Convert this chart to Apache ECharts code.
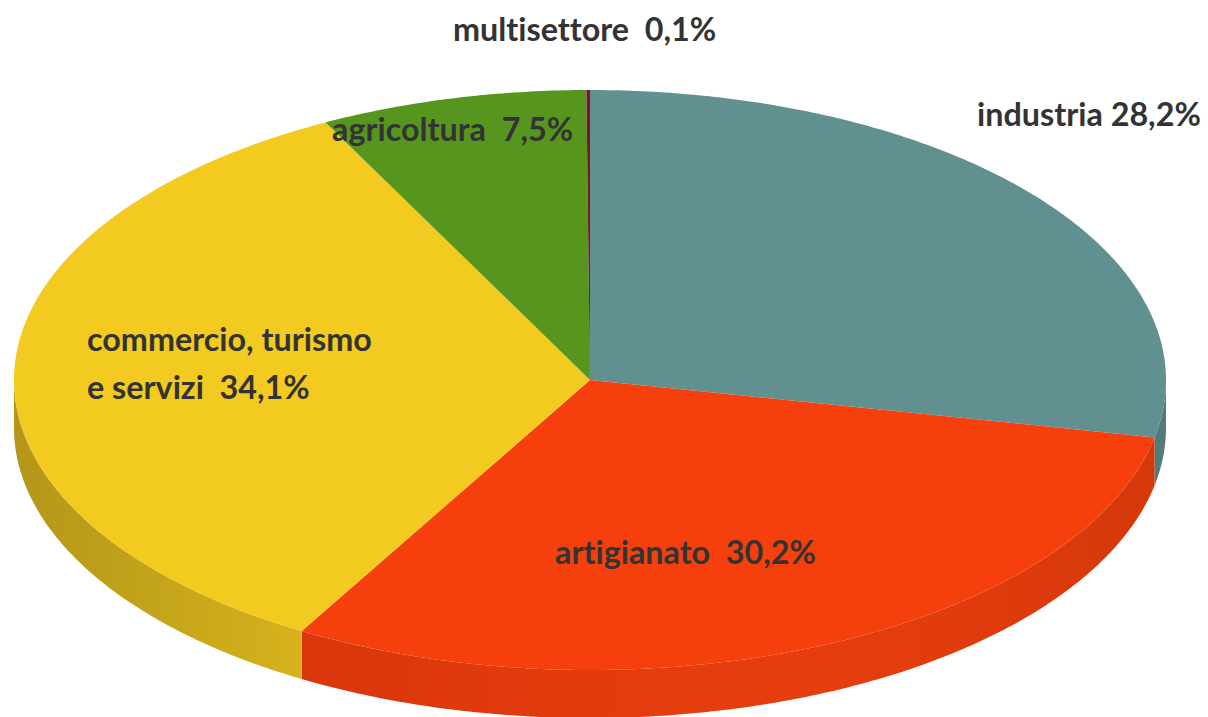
<!DOCTYPE html>
<html>
<head>
<meta charset="utf-8">
<style>html,body{margin:0;padding:0;background:#fff}#c{width:1208px;height:717px}#c text{font-variant-ligatures:none}</style>
<script src="https://cdn.jsdelivr.net/npm/echarts@6/dist/echarts.min.js"></script>
</head>
<body>
<div id="c"></div>
<script>
// Data, clockwise from twelve o'clock
var categories = ['industria', 'artigianato', 'commercio, turismo\ne servizi', 'agricoltura', 'multisettore'];
var values = [28.2, 30.2, 34.1, 7.5, 0.1];
var valueLabels = ['28,2%', '30,2%', '34,1%', '7,5%', '0,1%'];
var separators = [' ', '  ', '  ', '  ', '  '];

// Styles (wall stops run left to right on screen)
var topColors = ['#609190', '#f5400e', '#f3ca20', '#56961f', '#7d1427'];
var wallStops = [
  ['#527c7b', '#527c7b'],
  ['#da360c', '#e03a0d', '#e63d0e', '#e23c0d', '#d5380b'],
  ['#b4961a', '#c4a41a', '#d6b21c'],
  ['#4a8019', '#4a8019'],
  ['#6a1020', '#6a1020']
];
var labelAnchors = [[977, 113], [555, 551], [87, 338], [332, 128], [453, 28]];

// Projection of the disc
var CX = 590, CY = 380, RX = 576, RY = 290, DEPTH = 48;
var TOTAL = values.reduce(function (a, b) { return a + b; }, 0);

function pt(theta, dy) {
  return [CX + RX * Math.sin(theta), CY - RY * Math.cos(theta) + (dy || 0)];
}
function arc(a, b, dy) {
  var n = Math.max(2, Math.ceil((b - a) / 0.01)), out = [];
  for (var i = 0; i <= n; i++) out.push(pt(a + (b - a) * i / n, dy));
  return out;
}

function renderItem(params, api) {
  var i = params.dataIndex, before = 0;
  for (var k = 0; k < i; k++) before += values[k];
  var a = before / TOTAL * 2 * Math.PI;
  var b = a + api.value(0) / TOTAL * 2 * Math.PI;
  var children = [];

  var wa = Math.max(a, Math.PI / 2), wb = Math.min(b, Math.PI * 1.5);
  if (wb > wa) {
    var stops = wallStops[i];
    var wall = arc(wa, wb, 0).concat(arc(wa, wb, DEPTH).reverse());
    children.push({
      type: 'polygon',
      z2: 1,
      shape: { points: wall },
      style: {
        fill: new echarts.graphic.LinearGradient(0, 0, 1, 0, stops.map(function (c, j) {
          return { offset: j / (stops.length - 1), color: c };
        }))
      }
    });
  }
  children.push({
    type: 'polygon',
    z2: 2,
    shape: { points: [[CX, CY]].concat(arc(a, b, 0)) },
    style: { fill: topColors[i] }
  });
  return { type: 'group', children: children };
}

var labelItems = categories.map(function (name, i) {
  return {
    type: 'text',
    x: labelAnchors[i][0],
    y: labelAnchors[i][1],
    z: 10,
    style: {
      text: name + separators[i] + valueLabels[i],
      fontFamily: 'Lato',
      fontWeight: 700,
      fontSize: 32.3,
      lineHeight: 48,
      fill: '#333333',
      textAlign: 'left',
      textVerticalAlign: 'middle'
    }
  };
});
// the two-line label's anchor is the first line's centre
labelItems[2].y = labelAnchors[2][1] + 24;

var chart = echarts.init(document.getElementById('c'), null, { renderer: 'svg' });
chart.setOption({
  animation: false,
  backgroundColor: '#ffffff',
  graphic: { elements: labelItems },
  series: [{
    type: 'custom',
    coordinateSystem: 'none',
    renderItem: renderItem,
    encode: { value: 0 },
    data: values.map(function (v) { return [v]; })
  }]
});
</script>
</body>
</html>
